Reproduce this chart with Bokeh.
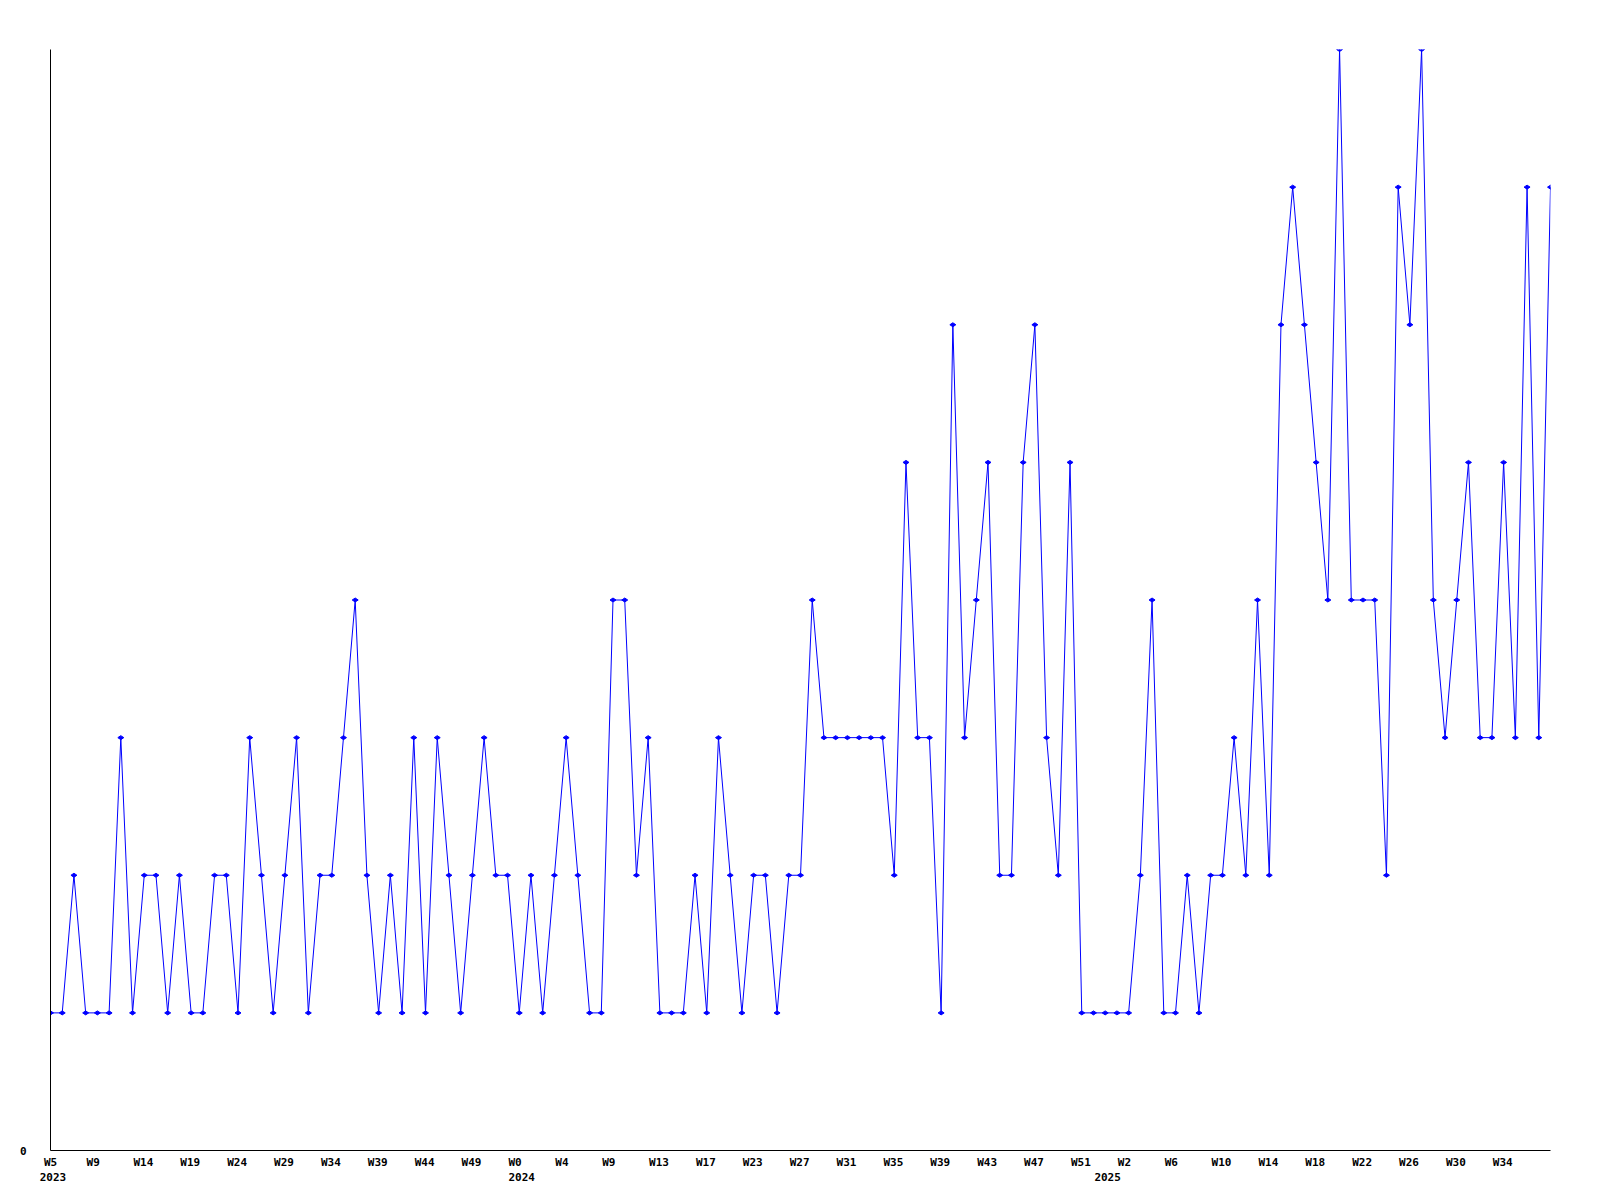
from bokeh.plotting import figure
from bokeh.models import Range1d, FixedTicker, LinearAxis
from bokeh.embed import file_html
from bokeh.resources import INLINE

# --- data -------------------------------------------------------------
values = [1, 1, 2, 1, 1, 1, 3, 1, 2, 2,
          1, 2, 1, 1, 2, 2, 1, 3, 2, 1,
          2, 3, 1, 2, 2, 3, 4, 2, 1, 2,
          1, 3, 1, 3, 2, 1, 2, 3, 2, 2,
          1, 2, 1, 2, 3, 2, 1, 1, 4, 4,
          2, 3, 1, 1, 1, 2, 1, 3, 2, 1,
          2, 2, 1, 2, 2, 4, 3, 3, 3, 3,
          3, 3, 2, 5, 3, 3, 1, 6, 3, 4,
          5, 2, 2, 5, 6, 3, 2, 5, 1, 1,
          1, 1, 1, 2, 4, 1, 1, 2, 1, 2,
          2, 3, 2, 4, 2, 6, 7, 6, 5, 4,
          8, 4, 4, 4, 2, 7, 6, 8, 4, 3,
          4, 5, 3, 3, 5, 3, 7, 3, 7]
idx = list(range(len(values)))

week_tick_idx = list(range(0, 125, 4))
week_labels = ["W5", "W9", "W14", "W19", "W24", "W29", "W34", "W39", "W44", "W49",
               "W0", "W4", "W9", "W13", "W17", "W23", "W27", "W31", "W35", "W39",
               "W43", "W47", "W51", "W2", "W6", "W10", "W14", "W18", "W22", "W26",
               "W30", "W34"]
year_tick_idx = [0, 40, 90]
year_labels = ["2023", "2024", "2025"]
y_max = 8

# --- layout -----------------------------------------------------------
FW, FH = 1500, 1101
FONT = "DejaVu Sans Mono"
FSIZE = 11
char_w = 0.602 * FSIZE
px_per_idx = FW / (len(values) - 1)
lead = -10.8  # labels start this many px left of their point


def shifted(i, lab):
    # label centre position (kept inside the axis range)
    return max(0.0, i + (lead + len(lab) * char_w / 2) / px_per_idx)


def style_labels(ax, standoff):
    ax.major_tick_line_color = None
    ax.minor_tick_line_color = None
    ax.major_tick_out = 0
    ax.major_tick_in = 0
    ax.major_label_standoff = standoff
    ax.major_label_text_font = FONT
    ax.major_label_text_font_style = "bold"
    ax.major_label_text_font_size = f"{FSIZE}px"
    ax.major_label_text_color = "black"


p = figure(frame_width=FW, frame_height=FH,
           min_border_left=50, min_border_right=42,
           min_border_top=49, min_border_bottom=42,
           x_range=Range1d(0, len(values) - 1), y_range=Range1d(0, y_max),
           output_backend="svg", toolbar_location=None,
           background_fill_color="white", border_fill_color="white")
p.outline_line_color = None
p.grid.visible = False

p.line(idx, values, line_color="#0000FF", line_width=1)
p.scatter(idx, values, marker="diamond", size=6, angle=1.5708,
          color="#0000FF")

# y axis: line plus a single "0" label
ya = p.yaxis[0]
ya.ticker = FixedTicker(ticks=[0], minor_ticks=[])
style_labels(ya, 24)
ya.axis_line_color = "black"

# x axis line (no labels)
xa = p.xaxis[0]
xa.ticker = FixedTicker(ticks=[], minor_ticks=[])
style_labels(xa, 0)
xa.major_label_text_color = None
xa.axis_line_color = "black"

# week labels
wk_pos = [shifted(i, l) for i, l in zip(week_tick_idx, week_labels)]
wax = LinearAxis(ticker=FixedTicker(ticks=wk_pos, minor_ticks=[]))
wax.major_label_overrides = {pos: lab for pos, lab in zip(wk_pos, week_labels)}
style_labels(wax, 5)
wax.axis_line_color = None
p.add_layout(wax, "below")

# year labels
yr_pos = [shifted(i, l) for i, l in zip(year_tick_idx, year_labels)]
yax = LinearAxis(ticker=FixedTicker(ticks=yr_pos, minor_ticks=[]))
yax.major_label_overrides = {pos: lab for pos, lab in zip(yr_pos, year_labels)}
style_labels(yax, 1)
yax.axis_line_color = None
p.add_layout(yax, "below")

open("out.html", "w").write(file_html(p, INLINE))
